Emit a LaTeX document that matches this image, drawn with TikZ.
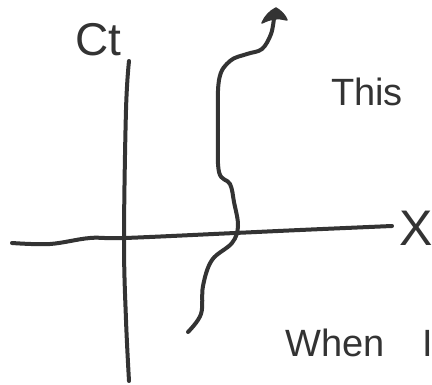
\documentclass[tikz,border=0pt]{standalone}
\usepackage{fontspec}
\setmainfont{Liberation Sans}
\begin{document}
\begin{tikzpicture}[x=1pt,y=-1pt,
  pen/.style={draw=black!80,line width=4pt,line cap=round,line join=round},
  headfill/.style={fill=black!80,draw=black!80,line width=1.5pt,line join=round},
  hand/.style={text=black!80,inner sep=0pt,anchor=center}]
\useasboundingbox (0,0) rectangle (432,385);
% vertical axis (ct)
\draw[pen] plot[smooth,tension=0.6] coordinates {(129,61) (126,110) (124,240) (126,320) (129,381)};
% horizontal axis (x)
\draw[pen] plot[smooth,tension=0.6] coordinates {(12,243) (50,244) (90,238) (125,238) (235,233) (300,230) (392,226)};
% world line
\draw[pen] plot[smooth,tension=0.6] coordinates {
  (188,332) (201,314) (203,286) (212,260) (232,243) (238,226) (234,202) (230,184) (219,172)
  (218,130) (219,80) (230,61) (247,54) (262,49) (271,34) (274,18)};
% its arrowhead
\coordinate (tip) at (276,8);
\fill[headfill] (tip) .. controls (281,11) and (285,15) .. (287,20)
  .. controls (282,19) and (278,18) .. (275,19)
  .. controls (271,19) and (266,21) .. (262,23)
  .. controls (265,16) and (270,11) .. (tip) -- cycle;
% labels
\node[hand,font=\fontsize{46}{46}\selectfont] (ct) at (98,40) {Ct};
\node[hand,font=\fontsize{50}{50}\selectfont] (xl) at (416,228) {X};
\node[hand,font=\fontsize{38}{38}\selectfont] (this) at (367,92) {This};
\node[hand,font=\fontsize{38}{38}\selectfont,anchor=west] (when) at (285,343) {When\hspace{38pt}I};
\end{tikzpicture}
\end{document}
